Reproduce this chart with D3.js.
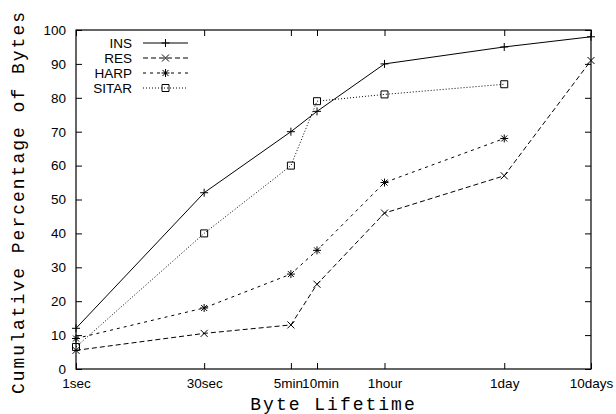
<!DOCTYPE html>
<html>
<head>
<meta charset="utf-8">
<script src="https://cdn.jsdelivr.net/npm/d3@7"></script>
<style>
  body { margin: 0; background: #fff; }
  .tick text { font-family: "Liberation Sans", Arial, sans-serif; font-size: 13.5px; fill: #000; }
  .tick line { stroke: #000; }
  .title { font-family: "Liberation Mono", "Courier New", monospace; font-size: 18px; letter-spacing: 2px; fill: #000; }
  .legend text { font-family: "Liberation Sans", Arial, sans-serif; font-size: 13.5px; fill: #000; }
</style>
</head>
<body>
<div id="chart"></div>
<script>
const width = 616
const height = 414
const margin = { top: 30, right: 25, bottom: 45, left: 76 }

// datos
const tickLabels = ["1sec", "30sec", "5min", "10min", "1hour", "1day", "10days"]
const seconds = [1, 30, 300, 600, 3600, 86400, 864000]
const insValues = [12, 52, 70, 76, 90, 95, 98]
const resValues = [5.5, 10.5, 13, 25, 46, 57, 91]
const harpValues = [9, 18, 28, 35, 55, 68]
const sitarValues = [6.5, 40, 60, 79, 81, 84]
const yTicks = [0, 10, 20, 30, 40, 50, 60, 70, 80, 90, 100]

const series = [
  { name: "INS", values: insValues, dash: null, marker: "plus" },
  { name: "RES", values: resValues, dash: "5,3", marker: "cross" },
  { name: "HARP", values: harpValues, dash: "3,4", marker: "star" },
  { name: "SITAR", values: sitarValues, dash: "1,2", marker: "square" },
]

const svg = d3.select("div#chart")
  .append("svg")
  .attr("width", width)
  .attr("height", height)

const x = d3.scaleLog().domain([1, 864000]).range([margin.left, width - margin.right])
const y = d3.scaleLinear().domain([0, 100]).range([height - margin.bottom, margin.top])

// ejes (ticks hacia dentro, como gnuplot)
const axisGroup = svg.append("g").attr("id", "axisGroup")

axisGroup.append("g")
  .attr("transform", `translate(0, ${height - margin.bottom})`)
  .call(d3.axisBottom(x).tickValues(seconds).tickFormat((d, i) => tickLabels[i]).tickSize(-6).tickPadding(9))
  .call(g => g.select(".domain").remove())
  // 5min y 10min quedan pegados, se separan un poco
  .call(g => g.selectAll(".tick text").attr("dx", (d, i) => i == 2 ? -3 : i == 3 ? 3 : 0))

axisGroup.append("g")
  .attr("transform", `translate(0, ${margin.top})`)
  .call(d3.axisTop(x).tickValues(seconds).tickFormat("").tickSize(-6))
  .call(g => g.select(".domain").remove())

axisGroup.append("g")
  .attr("transform", `translate(${margin.left}, 0)`)
  .call(d3.axisLeft(y).tickValues(yTicks).tickSize(-6).tickPadding(10))
  .call(g => g.select(".domain").remove())

axisGroup.append("g")
  .attr("transform", `translate(${width - margin.right}, 0)`)
  .call(d3.axisRight(y).tickValues(yTicks).tickFormat("").tickSize(-6))
  .call(g => g.select(".domain").remove())

svg.append("rect")
  .attr("x", margin.left)
  .attr("y", margin.top)
  .attr("width", width - margin.left - margin.right)
  .attr("height", height - margin.top - margin.bottom)
  .attr("fill", "none")
  .attr("stroke", "#000")
  .attr("stroke-width", 1.2)

// titulos
svg.append("text")
  .attr("class", "title")
  .attr("x", (margin.left + width - margin.right) / 2)
  .attr("y", 410)
  .attr("text-anchor", "middle")
  .text("Byte Lifetime")

svg.append("text")
  .attr("class", "title")
  .attr("transform", `translate(24, 202) rotate(-90)`)
  .attr("text-anchor", "middle")
  .text("Cumulative Percentage of Bytes")

const markerPaths = {
  plus: "M-4,0H4M0,-4V4",
  cross: "M-3.5,-3.5L3.5,3.5M-3.5,3.5L3.5,-3.5",
  star: "M-4,0H4M0,-4V4M-3,-3L3,3M-3,3L3,-3",
  square: "M-3.5,-3.5H3.5V3.5H-3.5Z",
}

const line = d3.line()
  .x((d, i) => x(seconds[i]))
  .y(d => y(d))

const elementGroup = svg.append("g").attr("id", "elementGroup")

series.forEach(s => {
  elementGroup.append("path")
    .datum(s.values)
    .attr("d", line)
    .attr("fill", "none")
    .attr("stroke", "#000")
    .attr("stroke-width", 1)
    .attr("stroke-dasharray", s.dash)

  elementGroup.selectAll(null).data(s.values)
    .join("path")
    .attr("transform", (d, i) => `translate(${x(seconds[i])}, ${y(d)})`)
    .attr("d", markerPaths[s.marker])
    .attr("fill", "none")
    .attr("stroke", "#000")
    .attr("stroke-width", 1)
})

// leyenda
const legend = svg.append("g").attr("class", "legend")
series.forEach((s, i) => {
  const ly = 43 + i * 15
  legend.append("text")
    .attr("x", 132)
    .attr("y", ly)
    .attr("dy", "0.35em")
    .attr("text-anchor", "end")
    .text(s.name)
  legend.append("line")
    .attr("x1", 143).attr("x2", 188)
    .attr("y1", ly).attr("y2", ly)
    .attr("stroke", "#000")
    .attr("stroke-dasharray", s.dash)
  legend.append("path")
    .attr("transform", `translate(165.5, ${ly})`)
    .attr("d", markerPaths[s.marker])
    .attr("fill", "none")
    .attr("stroke", "#000")
})
</script>
</body>
</html>
